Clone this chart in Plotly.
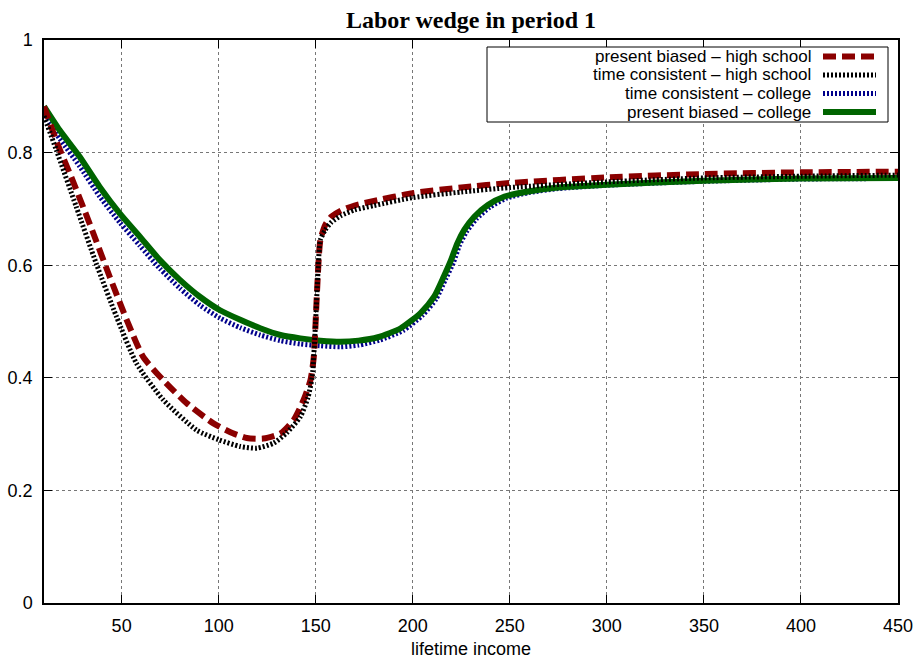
import plotly.graph_objects as go

# ---------------- data ----------------
x_pb_hs = [10, 17, 24, 33.5, 43.8, 53.3, 61.1, 71.4, 83.5, 97.3, 107, 114.5, 123, 131.8, 138.6,
           143.8, 147.3, 149.0, 150.7, 152.4, 155, 158, 163, 170, 180, 200, 225, 250, 300, 350, 400, 450]
y_pb_hs = [0.882, 0.815, 0.757, 0.674, 0.58, 0.497, 0.437, 0.396, 0.355, 0.319, 0.302, 0.293, 0.292, 0.301, 0.325,
           0.361, 0.396, 0.437, 0.556, 0.645, 0.672, 0.686, 0.697, 0.706, 0.714, 0.728, 0.738, 0.746, 0.756, 0.762, 0.765, 0.766]

x_tc_hs = [10, 16.3, 26.6, 36.9, 47.3, 57.6, 71.4, 88.7, 100, 111.1, 119.7, 128.3, 135, 142.1,
           146, 148.2, 149.9, 151.2, 152.4, 155, 158, 163, 170, 180, 200, 225, 250, 300, 350, 400, 450]
y_tc_hs = [0.865, 0.805, 0.704, 0.603, 0.509, 0.426, 0.361, 0.307, 0.29, 0.278, 0.275, 0.284, 0.302, 0.331,
           0.365, 0.402, 0.497, 0.59, 0.645, 0.663, 0.676, 0.688, 0.698, 0.706, 0.72, 0.73, 0.738, 0.748, 0.755, 0.758, 0.76]

x_tc_col = [10, 18, 28.3, 38.7, 49, 59.3, 69.7, 80, 90.3, 100.7, 111.1, 121.4, 131.8, 142.1, 152.4, 162.8,
            172, 183, 195, 205, 212, 217, 221, 224, 227.6, 232.7, 239.7, 248.3, 260, 275, 300, 350, 400, 450]
y_tc_col = [0.865, 0.825, 0.776, 0.722, 0.676, 0.635, 0.594, 0.559, 0.529, 0.506, 0.489, 0.476, 0.466, 0.46, 0.457, 0.455,
            0.458, 0.467, 0.484, 0.511, 0.54, 0.576, 0.605, 0.635, 0.659, 0.682, 0.703, 0.719, 0.729, 0.736, 0.742, 0.749, 0.753, 0.754]

x_pb_col = [10, 18, 28.3, 38.7, 49, 59.3, 69.7, 80, 90.3, 100.7, 111.1, 121.4, 131.8, 142.1, 152.4, 162.8,
            172, 182, 193.8, 204, 211, 216, 219.7, 223, 226.6, 231.7, 238.7, 247.3, 259.4, 275, 300, 350, 400, 450]
y_pb_col = [0.882, 0.840, 0.793, 0.739, 0.692, 0.651, 0.609, 0.574, 0.544, 0.520, 0.503, 0.488, 0.476, 0.470, 0.466, 0.464,
            0.466, 0.472, 0.488, 0.515, 0.544, 0.58, 0.609, 0.639, 0.663, 0.686, 0.707, 0.722, 0.731, 0.738, 0.743, 0.75, 0.754, 0.755]

x_ticks = [50, 100, 150, 200, 250, 300, 350, 400, 450]
y_ticks = [0, 0.2, 0.4, 0.6, 0.8, 1]
y_tick_text = ["0", "0.2", "0.4", "0.6", "0.8", "1"]

names = ["present biased \u2013 high school", "time consistent \u2013 high school",
         "time consistent \u2013 college", "present biased \u2013 college"]

RED, BLACK, BLUE, GREEN = "#8b0000", "#000000", "#00008b", "#006400"
styles = {
    names[0]: dict(color=RED, width=6, dash="13px,6px"),
    names[1]: dict(color=BLACK, width=5, dash="2px,2px"),
    names[2]: dict(color=BLUE, width=5, dash="2px,2px"),
    names[3]: dict(color=GREEN, width=6, dash="solid"),
}

fig = go.Figure()
# drawing order: blue, green, red, black
for nm, xs, ys in [(names[2], x_tc_col, y_tc_col), (names[3], x_pb_col, y_pb_col),
                   (names[0], x_pb_hs, y_pb_hs), (names[1], x_tc_hs, y_tc_hs)]:
    fig.add_trace(go.Scatter(x=xs, y=ys, mode="lines", name=nm,
                             line=dict(shape="spline", smoothing=0.6, **styles[nm]),
                             showlegend=False))

# custom legend (text right-aligned, sample to the right), in paper coords
W_PLOT, H_PLOT, L, T = 854, 563, 44, 40
def px(xp):
    return (xp - L) / W_PLOT
def py(yp):
    return (T + H_PLOT - yp) / H_PLOT

shapes = [dict(type="rect", xref="paper", yref="paper", x0=px(487), x1=px(888), y0=py(122), y1=py(47),
               line=dict(color="black", width=1), fillcolor="white", layer="above")]
annotations = []
rows = [56.5, 75, 93.5, 112]
for nm, r in zip(names, rows):
    annotations.append(dict(xref="paper", yref="paper", x=px(812), y=py(r), text=nm, showarrow=False,
                            xanchor="right", yanchor="middle", borderpad=0,
                            font=dict(family="Liberation Sans, Arial", size=17, color="black")))
    st = styles[nm]
    shapes.append(dict(type="line", xref="paper", yref="paper", x0=px(823), x1=px(876), y0=py(r), y1=py(r),
                       line=dict(color=st["color"], width=st["width"], dash=st["dash"]), layer="above"))

axis_common = dict(showline=True, mirror="ticks", linecolor="black", linewidth=1.5,
                   ticks="inside", ticklen=8, tickcolor="black", tickwidth=1,
                   showgrid=True, gridcolor="#777777", griddash="dot", gridwidth=1,
                   zeroline=False, automargin=False,
                   tickfont=dict(family="Liberation Sans, Arial", size=18, color="black"))

fig.update_layout(
    width=917, height=659,
    margin=dict(l=L, r=917 - L - W_PLOT, t=T, b=659 - T - H_PLOT),
    plot_bgcolor="white", paper_bgcolor="white",
    title=dict(text="<b>Labor wedge in period 1</b>", x=0.5, xref="paper", xanchor="center",
               y=1 - 20 / 659, yref="container", yanchor="middle",
               font=dict(family="Liberation Serif, Times New Roman", size=24, color="black")),
    xaxis=dict(range=[10, 450], tickvals=x_ticks, ticklabelstandoff=6,
               title=dict(text="lifetime income", standoff=13,
                          font=dict(family="Liberation Sans, Arial", size=18, color="black")),
               **axis_common),
    yaxis=dict(range=[0, 1], tickvals=y_ticks, ticktext=y_tick_text, ticklabelstandoff=6,
               **axis_common),
    shapes=shapes, annotations=annotations,
)

fig.write_html("out.html")
